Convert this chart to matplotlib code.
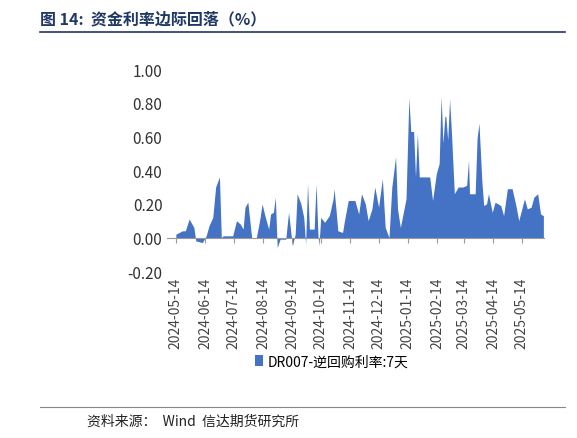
import matplotlib
matplotlib.use("Agg")
import matplotlib.pyplot as plt
import pandas as pd
plt.rcParams['font.family'] = ['Noto Sans CJK SC', 'DejaVu Sans']

start = "2024-05-14"
day_offsets = [0,7,10,14,19,21,28,32,35,39,42,46,48,50,60,64,68,71,73,76,80,85,89,91,94,98,100,103,105,107,110,116,119,123,126,128,132,135,137,139,141,146,148,150,151,153,157,162,166,167,169,171,176,178,182,189,193,196,200,203,207,210,214,218,221,225,228,232,234,237,243,246,248,251,253,255,257,268,271,275,278,280,282,284,285,287,289,291,294,298,303,307,309,310,316,318,320,323,325,328,330,334,337,343,346,350,355,359,362,368,371,375,378,382,385,388]
values = [0.02,0.04,0.04,0.11,0.06,-0.02,-0.03,0.01,0.07,0.12,0.30,0.36,0.0,0.01,0.01,0.10,0.08,0.05,0.18,0.21,0.0,0.0,0.12,0.20,0.13,0.05,0.14,0.15,0.24,-0.06,-0.01,-0.01,0.15,-0.05,0.02,0.26,0.20,0.12,-0.04,0.32,0.05,0.05,0.32,0.02,-0.05,0.12,0.09,0.13,0.23,0.29,0.17,0.04,0.03,0.10,0.22,0.22,0.14,0.26,0.20,0.10,0.17,0.30,0.18,0.35,0.06,0.0,0.30,0.48,0.17,0.06,0.23,0.83,0.63,0.63,0.36,0.62,0.36,0.36,0.22,0.38,0.44,0.84,0.56,0.72,0.72,0.58,0.82,0.62,0.26,0.30,0.30,0.31,0.46,0.26,0.26,0.59,0.68,0.34,0.19,0.20,0.26,0.15,0.21,0.19,0.13,0.29,0.29,0.19,0.10,0.23,0.17,0.18,0.24,0.26,0.14,0.13]
tick_labels = ["2024-05-14","2024-06-14","2024-07-14","2024-08-14","2024-09-14","2024-10-14","2024-11-14","2024-12-14","2025-01-14","2025-02-14","2025-03-14","2025-04-14","2025-05-14"]
series_name = "DR007-逆回购利率:7天"

dates = pd.Timestamp(start) + pd.to_timedelta(day_offsets, unit="D")
fig = plt.figure(figsize=(5.77, 4.39), dpi=100)
ax = fig.add_axes([0.29, 0.38, 0.655, 0.46])
color = "#4472C4"
ax.fill_between(dates, values, 0, color=color, linewidth=0, label=series_name)
ax.set_ylim(-0.2, 1.0)
ax.set_yticks([-0.2, 0, 0.2, 0.4, 0.6, 0.8, 1.0])
ax.set_yticklabels(["-0.20", "0.00", "0.20", "0.40", "0.60", "0.80", "1.00"], fontsize=11, color="#333333")
ax.set_xlim(pd.Timestamp("2024-05-05"), dates[-1] + pd.Timedelta(days=2))
ticks = pd.to_datetime(tick_labels)
ax.set_xticks(ticks)
ax.set_xticklabels(tick_labels, rotation=90, fontsize=10, color="#444444")
for s in ["top", "right", "left", "bottom"]:
    ax.spines[s].set_visible(False)
ax.axhline(0, color="#999999", linewidth=0.8)
ax.vlines(ticks, -0.03, 0, color="#999999", linewidth=0.8)
ax.tick_params(axis="y", length=0)
ax.tick_params(axis="x", length=0, pad=4)
fig.legend(loc="center", bbox_to_anchor=(0.575, 0.175), frameon=False, fontsize=10, handlelength=0.6, handleheight=0.8, handletextpad=0.3)

fig.text(0.07, 0.955, "图 14:  资金利率边际回落（%）", fontsize=11.5, fontweight="bold", color="#1F3864", va="center")
fig.add_artist(plt.Line2D([0.07, 0.98], [0.925, 0.925], color="#1F3864", linewidth=1.2))
fig.add_artist(plt.Line2D([0.07, 0.98], [0.07, 0.07], color="#888888", linewidth=0.8))
fig.text(0.15, 0.04, "资料来源：  Wind  信达期货研究所", fontsize=10, style="italic", color="#222222", va="center")
fig.savefig("out.png", dpi=100)
